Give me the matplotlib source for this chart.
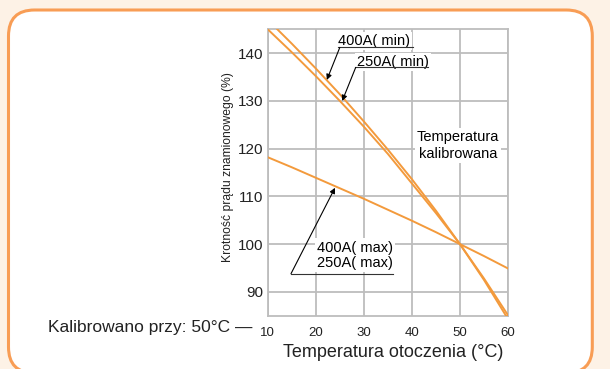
import numpy as np
import matplotlib
matplotlib.use("Agg")
import matplotlib.pyplot as plt
from matplotlib.patches import FancyBboxPatch
from matplotlib.transforms import IdentityTransform

plt.rcParams['font.family'] = ['Liberation Sans', 'DejaVu Sans']

# dane
temp = [10, 15, 20, 25, 30, 35, 40, 45, 50, 55, 60]
min_250 = [145.0, 140.2, 135.2, 130.0, 124.6, 118.9, 112.7, 106.5, 100.0, 92.8, 85.1]
temp_400 = [12, 15, 20, 25, 30, 35, 40, 45, 50, 55, 60]
min_400 = [145.0, 142.0, 136.8, 131.4, 125.7, 119.8, 113.6, 107.0, 100.0, 92.5, 84.3]
max_both = [118.2, 116.1, 113.9, 111.7, 109.5, 107.2, 104.9, 102.5, 100.0, 97.5, 94.9]

xticks = [10, 20, 30, 40, 50, 60]
yticks = [90, 100, 110, 120, 130, 140]

orange = '#f39a3c'
grid_c = '#bdbdbd'
txt_c = '#222222'

fig = plt.figure(figsize=(6.1, 3.69), dpi=100)
fig.patch.set_facecolor('#fdf2e6')

# ramka z zaokraglonymi rogami (w pikselach)
box = FancyBboxPatch((8.5, -4), 583.8, 363, boxstyle='round,pad=0,rounding_size=26',
                     transform=IdentityTransform(), facecolor='white',
                     edgecolor='#f89d55', linewidth=2.2, zorder=-10)
fig.add_artist(box)

ax = fig.add_axes([0.4389, 0.1444, 0.3939, 0.7762])
ax.set_facecolor('white')

ax.plot(temp, max_both, color=orange, lw=1.4, zorder=3)
ax.plot(temp, min_250, color=orange, lw=1.4, zorder=3)
ax.plot(temp_400, min_400, color=orange, lw=1.4, zorder=3)

ax.set_xlim(10, 60)
ax.set_ylim(85, 145)
ax.set_xticks(xticks)
ax.set_yticks(yticks)
ax.grid(True, color=grid_c, lw=1.3, zorder=0)
ax.set_axisbelow(True)
for s in ax.spines.values():
    s.set_color(grid_c)
    s.set_linewidth(1.3)
ax.tick_params(length=0, colors=txt_c)
ax.tick_params(axis='x', pad=8, labelsize=9.5)
ax.tick_params(axis='y', pad=3, labelsize=11)

ax.set_xlabel('Temperatura otoczenia (°C)', fontsize=13, color=txt_c)
ax.xaxis.set_label_coords(0.521, -0.10)
ax.set_ylabel('Krotność prądu znamionowego (%)', fontsize=8.7, color=txt_c)
ax.yaxis.set_label_coords(-0.14, 0.52)

wb = dict(facecolor='white', edgecolor='none', pad=1.5)
arr = dict(arrowstyle='-|>', color='black', lw=0.8, mutation_scale=8, shrinkA=0, shrinkB=0)
fs = 10.5

# 400A(min)
ax.text(24.6, 142.6, '400A( min)', fontsize=fs, va='center', ha='left', bbox=wb, zorder=4)
ax.plot([24.6, 40.2], [141.2, 141.2], color='#333333', lw=0.8, zorder=4, clip_on=False)
ax.annotate('', xy=(22.3, 134.4), xytext=(25.0, 141.2), arrowprops=arr, zorder=5)

# 250A(min)
ax.text(28.5, 138.2, '250A( min)', fontsize=fs, va='center', ha='left', bbox=wb, zorder=4)
ax.plot([28.15, 43.3], [137.0, 137.0], color='#333333', lw=0.8, zorder=4)
ax.annotate('', xy=(25.5, 130.0), xytext=(28.3, 137.0), arrowprops=arr, zorder=5)

# max
ax.text(20.2, 97.7, '400A( max)\n250A( max)', fontsize=fs, va='center', ha='left',
        bbox=wb, zorder=4, linespacing=1.1)
ax.plot([14.84, 36.1], [93.8, 93.8], color='#333333', lw=0.8, zorder=4)
ax.annotate('', xy=(24.0, 111.8), xytext=(14.84, 93.8), arrowprops=arr, zorder=5)

ax.text(49.6, 120.6, 'Temperatura\nkalibrowana', fontsize=fs, va='center', ha='center',
        bbox=wb, zorder=4, linespacing=1.3)

fig.text(252 / 610, (369 - 327.3) / 369, 'Kalibrowano przy: 50°C —', fontsize=12.5,
         ha='right', va='center', color=txt_c)

fig.savefig('out.png', dpi=100, facecolor=fig.get_facecolor())
